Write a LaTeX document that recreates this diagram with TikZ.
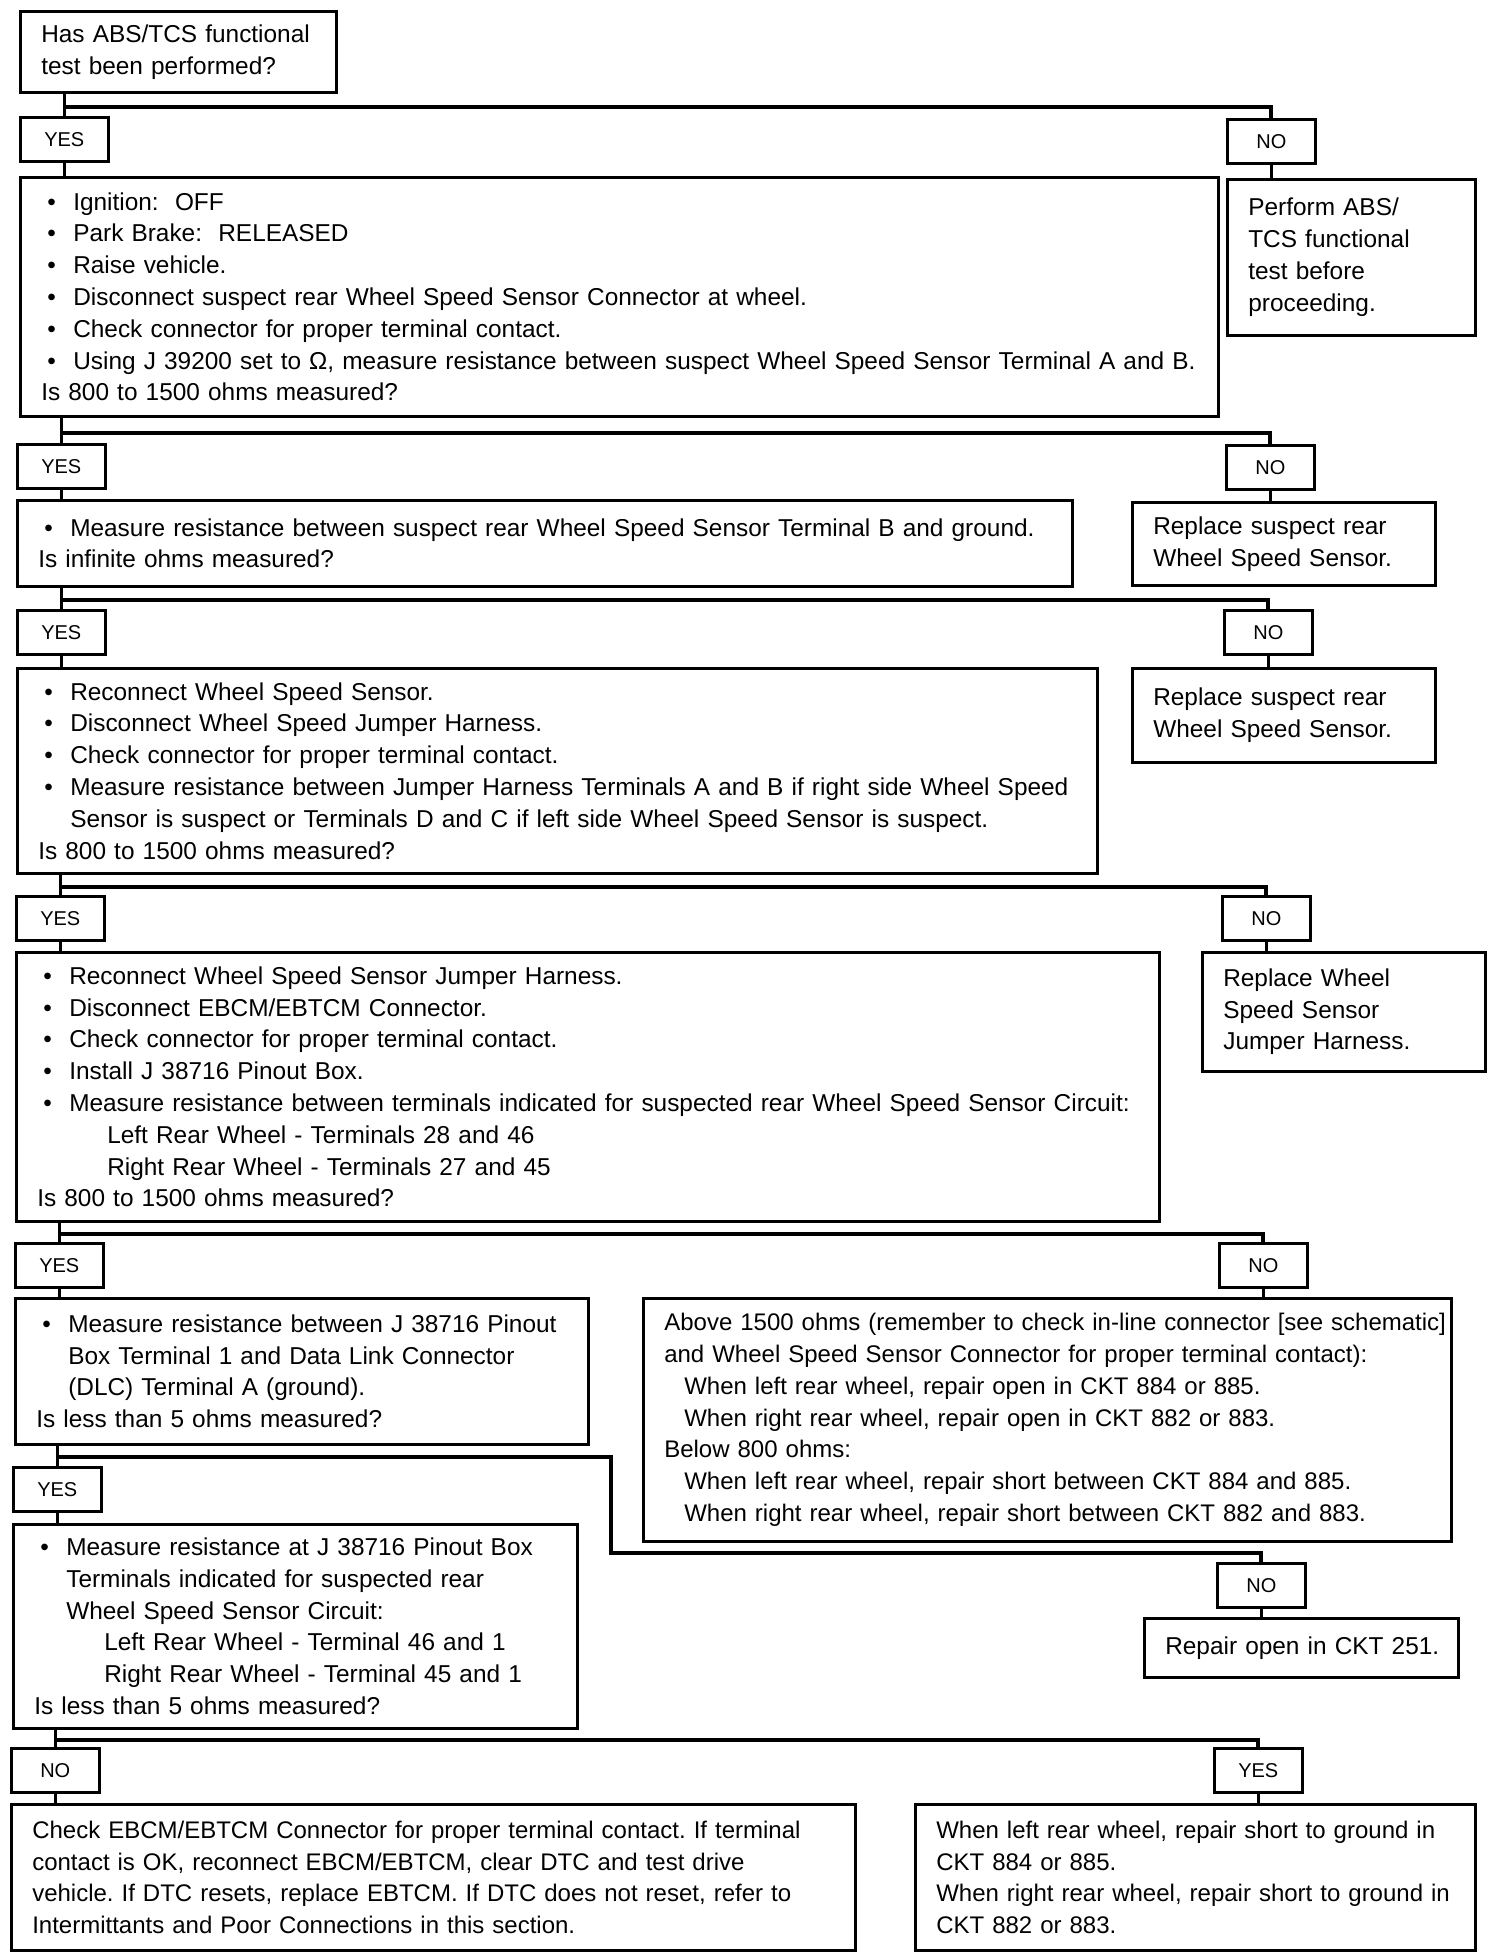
\documentclass[tikz,border=0pt]{standalone}
\usepackage{fontspec}
\setmainfont{Liberation Sans}
\usepackage{tikz}
\usetikzlibrary{calc}
\frenchspacing

% bullet, hanging and sub indents for the check boxes (one line each)
\newcommand{\bitem}[1]{\mbox{\hspace*{3pt}\makebox[13pt][l]{\textbullet}#1}}
\newcommand{\bhang}[1]{\mbox{\hspace*{16pt}#1}}
\newcommand{\bsub}[1]{\mbox{\hspace*{35pt}#1}}
\newcommand{\bwhen}[1]{\mbox{\hspace*{10pt}#1}}

\begin{document}
\begin{tikzpicture}[x=0.5pt,y=-0.5pt,
  box/.style={draw, line width=1.3pt, anchor=north west, align=left,
    inner xsep=10.5pt, inner ysep=0pt, font=\fontsize{12.2}{15.9}\selectfont},
  tight/.style={font=\fontsize{12}{15.9}\selectfont},
  tag/.style={draw, line width=1.3pt, anchor=north west, inner sep=0pt,
    minimum width=44pt, minimum height=22pt, font=\fontsize{10}{12}\selectfont},
  link/.style={line width=1.3pt},
  bus/.style={line width=2pt}]
  % page
  \fill[white] (0,0) rectangle (1504,1956);

  % Question boxes down the left side
  \node[box, text width=137pt, minimum height=40.5pt] (q0) at (19,10)
    {Has ABS/TCS functional\\test been performed?};
  \node[box, text width=578pt, minimum height=119.5pt] (s1) at (19,176)
    {\bitem{Ignition:\ \ OFF}\\
     \bitem{Park Brake:\ \ RELEASED}\\
     \bitem{Raise vehicle.}\\
     \bitem{Disconnect suspect rear Wheel Speed Sensor Connector at wheel.}\\
     \bitem{Check connector for proper terminal contact.}\\
     \bitem{Using J 39200 set to Ω, measure resistance between suspect Wheel Speed Sensor Terminal A and B.}\\
     Is 800 to 1500 ohms measured?};
  \node[box, text width=506.5pt, minimum height=43pt] (s2) at (16,499)
    {\bitem{Measure resistance between suspect rear Wheel Speed Sensor Terminal B and ground.}\\
     Is infinite ohms measured?};
  \node[box, text width=519pt, minimum height=102.5pt] (s3) at (16,667)
    {\bitem{Reconnect Wheel Speed Sensor.}\\
     \bitem{Disconnect Wheel Speed Jumper Harness.}\\
     \bitem{Check connector for proper terminal contact.}\\
     \bitem{Measure resistance between Jumper Harness Terminals A and B if right side Wheel Speed}\\
     \bhang{Sensor is suspect or Terminals D and C if left side Wheel Speed Sensor is suspect.}\\
     Is 800 to 1500 ohms measured?};
  \node[box, text width=550.5pt, minimum height=134.5pt] (s4) at (15,951)
    {\bitem{Reconnect Wheel Speed Sensor Jumper Harness.}\\
     \bitem{Disconnect EBCM/EBTCM Connector.}\\
     \bitem{Check connector for proper terminal contact.}\\
     \bitem{Install J 38716 Pinout Box.}\\
     \bitem{Measure resistance between terminals indicated for suspected rear Wheel Speed Sensor Circuit:}\\
     \bsub{Left Rear Wheel - Terminals 28 and 46}\\
     \bsub{Right Rear Wheel - Terminals 27 and 45}\\
     Is 800 to 1500 ohms measured?};
  \node[box, text width=265.5pt, minimum height=73pt] (s5) at (14,1297)
    {\bitem{Measure resistance between J 38716 Pinout}\\
     \bhang{Box Terminal 1 and Data Link Connector}\\
     \bhang{(DLC) Terminal A (ground).}\\
     Is less than 5 ohms measured?};
  \node[box, text width=261pt, minimum height=102pt] (s6) at (12,1523)
    {\bitem{Measure resistance at J 38716 Pinout Box}\\
     \bhang{Terminals indicated for suspected rear}\\
     \bhang{Wheel Speed Sensor Circuit:}\\
     \bsub{Left Rear Wheel - Terminal 46 and 1}\\
     \bsub{Right Rear Wheel - Terminal 45 and 1}\\
     Is less than 5 ohms measured?};
  \node[box, tight, text width=401pt, minimum height=73pt] (s7) at (10,1803)
    {\mbox{Check EBCM/EBTCM Connector for proper terminal contact. If terminal}\\
     \mbox{contact is OK, reconnect EBCM/EBTCM, clear DTC and test drive}\\
     \mbox{vehicle. If DTC resets, replace EBTCM. If DTC does not reset, refer to}\\
     \mbox{Intermittants and Poor Connections in this section.}};

  % Action boxes on the right
  \node[box, text width=103pt, minimum height=78pt] (n1) at (1226,178)
    {Perform ABS/\\TCS functional\\test before\\proceeding.};
  \node[box, text width=130.5pt, minimum height=41.5pt] (n2) at (1131,501)
    {Replace suspect rear\\Wheel Speed Sensor.};
  \node[box, text width=130.5pt, minimum height=47pt] (n3) at (1131,667)
    {Replace suspect rear\\Wheel Speed Sensor.};
  \node[box, text width=120.5pt, minimum height=59.5pt] (n4) at (1201,951)
    {Replace Wheel\\Speed Sensor\\Jumper Harness.};
  \node[box, tight, text width=383pt, minimum height=121.5pt] (n5) at (642,1297)
    {\mbox{Above 1500 ohms (remember to check in-line connector [see schematic]}\\
     \mbox{and Wheel Speed Sensor Connector for proper terminal contact):}\\
     \bwhen{When left rear wheel, repair open in CKT 884 or 885.}\\
     \bwhen{When right rear wheel, repair open in CKT 882 or 883.}\\
     Below 800 ohms:\\
     \bwhen{When left rear wheel, repair short between CKT 884 and 885.}\\
     \bwhen{When right rear wheel, repair short between CKT 882 and 883.}};
  \node[box, text width=136pt, minimum height=29.5pt] (n6) at (1143,1617)
    {\mbox{Repair open in CKT 251.}};
  \node[box, tight, text width=259pt, minimum height=73pt] (n7) at (914,1803)
    {\mbox{When left rear wheel, repair short to ground in}\\
     CKT 884 or 885.\\
     \mbox{When right rear wheel, repair short to ground in}\\
     CKT 882 or 883.};

  % YES / NO tags
  \node[tag] (yes1) at (19,116) {YES};
  \node[tag] (no1) at (1226,118) {NO};
  \node[tag] (yes2) at (16,443) {YES};
  \node[tag] (no2) at (1225,444) {NO};
  \node[tag] (yes3) at (16,609) {YES};
  \node[tag] (no3) at (1223,609) {NO};
  \node[tag] (yes4) at (15,895) {YES};
  \node[tag] (no4) at (1221,895) {NO};
  \node[tag] (yes5) at (14,1242) {YES};
  \node[tag] (no5) at (1218,1242) {NO};
  \node[tag] (yes6) at (12,1466) {YES};
  \node[tag] (no6) at (1216,1562) {NO};
  \node[tag] (no7) at (10,1747) {NO};
  \node[tag] (yes7) at (1213,1747) {YES};

  % Branches
  \draw[link] (q0.south -| yes1) -- (yes1.north);
  \draw[bus] ($(q0.south -| yes1)!0.6!(yes1.north)$) -| (no1.north);
  \draw[link] (yes1.south) -- (yes1.south |- s1.north);
  \draw[link] (no1.south) -- (no1.south |- n1.north);

  \draw[link] (s1.south -| yes2) -- (yes2.north);
  \draw[bus] ($(s1.south -| yes2)!0.6!(yes2.north)$) -| (no2.north);
  \draw[link] (yes2.south) -- (yes2.south |- s2.north);
  \draw[link] (no2.south) -- (no2.south |- n2.north);

  \draw[link] (s2.south -| yes3) -- (yes3.north);
  \draw[bus] ($(s2.south -| yes3)!0.6!(yes3.north)$) -| (no3.north);
  \draw[link] (yes3.south) -- (yes3.south |- s3.north);
  \draw[link] (no3.south) -- (no3.south |- n3.north);

  \draw[link] (s3.south -| yes4) -- (yes4.north);
  \draw[bus] ($(s3.south -| yes4)!0.6!(yes4.north)$) -| (no4.north);
  \draw[link] (yes4.south) -- (yes4.south |- s4.north);
  \draw[link] (no4.south) -- (no4.south |- n4.north);

  \draw[link] (s4.south -| yes5) -- (yes5.north);
  \draw[bus] ($(s4.south -| yes5)!0.6!(yes5.north)$) -| (no5.north);
  \draw[link] (yes5.south) -- (yes5.south |- s5.north);
  \draw[link] (no5.south) -- (no5.south |- n5.north);

  % jog round the big NO box
  \coordinate (jog) at (611,1553);
  \draw[link] (s5.south -| yes6) -- (yes6.north);
  \draw[bus] ($(s5.south -| yes6)!0.55!(yes6.north)$) -| (jog) -| (no6.north);
  \draw[link] (yes6.south) -- (yes6.south |- s6.north);
  \draw[link] (no6.south) -- (no6.south |- n6.north);

  \draw[link] (s6.south -| no7) -- (no7.north);
  \draw[bus] ($(s6.south -| no7)!0.6!(no7.north)$) -| (yes7.north);
  \draw[link] (no7.south) -- (no7.south |- s7.north);
  \draw[link] (yes7.south) -- (yes7.south |- n7.north);
\end{tikzpicture}
\end{document}
